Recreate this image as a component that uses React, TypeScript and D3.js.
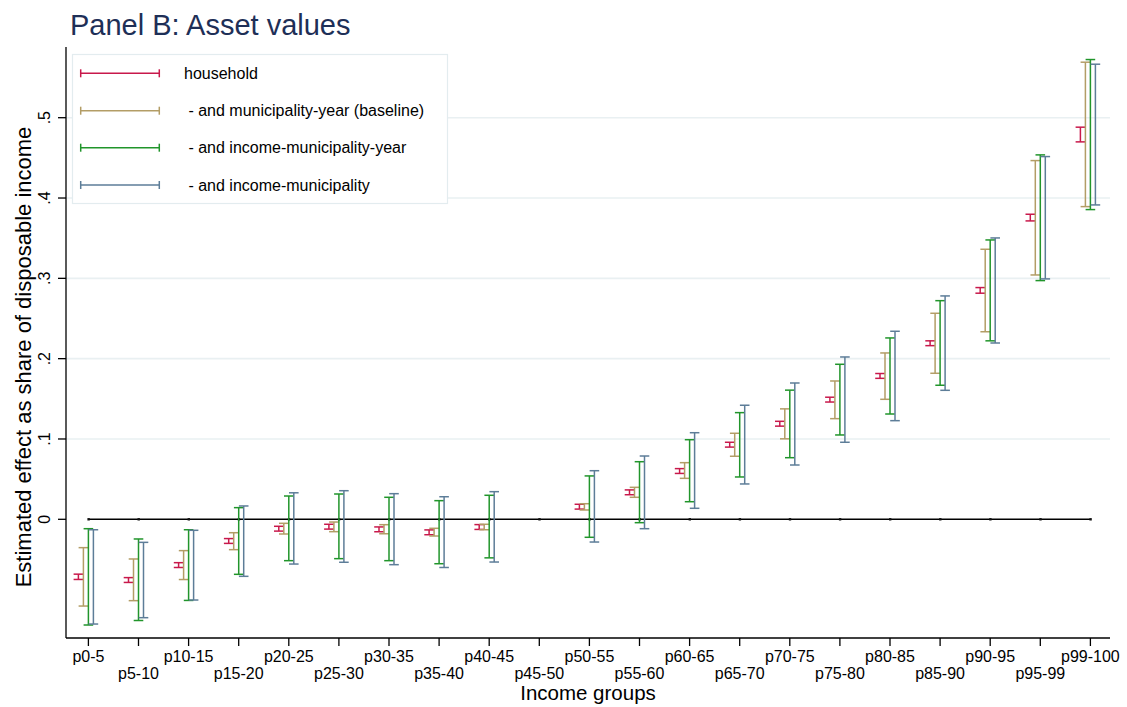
import React from "react";
import * as d3 from "d3";

const categories = ["p0-5","p5-10","p10-15","p15-20","p20-25","p25-30","p30-35","p35-40","p40-45","p45-50","p50-55","p55-60","p60-65","p65-70","p70-75","p75-80","p80-85","p85-90","p90-95","p95-99","p99-100"];

// household (lo, hi)
const householdLo = [-0.0749,-0.0786,-0.060,-0.030,-0.0147,-0.0122,-0.0155,-0.0192,-0.0126,null,0.0127,0.0306,0.0571,0.0899,0.116,0.146,0.1755,0.2162,0.2815,0.3715,0.4699];
const householdHi = [-0.0683,-0.0726,-0.054,-0.024,-0.0087,-0.0062,-0.0095,-0.0132,-0.0066,null,0.0187,0.0366,0.0631,0.0959,0.122,0.152,0.1815,0.2222,0.2885,0.3798,0.4882];
// municipality-year (baseline)
const baselineLo = [-0.108,-0.1013,-0.075,-0.0378,-0.0183,-0.0154,-0.018,-0.0208,-0.013,null,0.0116,0.0274,0.051,0.0785,0.1002,0.1253,0.1494,0.1818,0.2335,0.3042,0.3893];
const baselineHi = [-0.0353,-0.0494,-0.039,-0.0167,-0.005,-0.0034,-0.0067,-0.0112,-0.0062,null,0.0194,0.0398,0.0705,0.1071,0.1375,0.1722,0.2071,0.2565,0.3362,0.4466,0.5691];
// income-municipality-year
const incMunYearLo = [-0.1316,-0.126,-0.101,-0.0685,-0.0515,-0.049,-0.0515,-0.0553,-0.048,null,-0.0224,-0.0042,0.0219,0.0527,0.0767,0.105,0.1311,0.1669,0.2222,0.2972,0.3856];
const incMunYearHi = [-0.0117,-0.0245,-0.013,0.0145,0.029,0.0315,0.0274,0.0232,0.0299,null,0.054,0.0717,0.0991,0.1328,0.1608,0.193,0.2258,0.2722,0.3478,0.4537,0.5724];
// income-municipality
const incMunLo = [-0.1304,-0.1225,-0.1005,-0.071,-0.0557,-0.0535,-0.0565,-0.060,-0.0532,null,-0.0283,-0.0117,0.0137,0.044,0.0676,0.0959,0.1228,0.1606,0.2195,0.2993,0.3914];
const incMunHi = [-0.013,-0.0287,-0.0137,0.0166,0.033,0.0356,0.0319,0.0281,0.0344,null,0.0605,0.0788,0.1078,0.142,0.1697,0.2021,0.2341,0.2781,0.3503,0.4516,0.5666];

const yTicks = [0, 0.1, 0.2, 0.3, 0.4, 0.5];
const yTickLabels = ["0", ".1", ".2", ".3", ".4", ".5"];

const seriesNames = ["household", " - and municipality-year (baseline)", " - and income-municipality-year", " - and income-municipality"];
const seriesColors = ["#c8194b", "#b39d66", "#21952b", "#5d7d98"];
const seriesOffsets = [-10, -5, 0, 5];

const FONT = "Arial, 'Liberation Sans', Helvetica, sans-serif";

export default function App() {
  const W = 1127, H = 707;
  const axisLeft = 66, axisBottom = 638, axisTop = 47, axisRight = 1110;
  const x = d3.scalePoint<string>().domain(categories).range([88.4, 1090.4]);
  const y = d3.scaleLinear().domain([0, 0.5]).range([519.3, 117.7]);

  const series = [
    { lo: householdLo, hi: householdHi },
    { lo: baselineLo, hi: baselineHi },
    { lo: incMunYearLo, hi: incMunYearHi },
    { lo: incMunLo, hi: incMunHi },
  ];
  const cap = 4.8;
  const legendY = [73.3, 110.7, 147.7, 185];

  return (
    <div style={{ position: "absolute", left: 0, top: 0 }}>
      <svg width={W} height={H} style={{ display: "block", background: "#fff" }} fontFamily={FONT}>
        <rect x={0} y={0} width={W} height={H} fill="#ffffff" />
        <text x={70} y={34.5} fontSize={29} fill="#1e2f57">Panel B: Asset values</text>

        {/* grid */}
        {yTicks.filter(t => t > 0).map(t => (
          <line key={"g" + t} x1={axisLeft} x2={axisRight} y1={y(t)} y2={y(t)} stroke="#e9f0f2" strokeWidth={1.6} />
        ))}

        {/* zero line */}
        <line x1={x(categories[0])} x2={x(categories[categories.length - 1])} y1={y(0)} y2={y(0)} stroke="#000" strokeWidth={1.5} />
        {categories.map(c => (
          <rect key={"zd" + c} x={(x(c) as number) - 1} y={y(0) - 1.2} width={2.4} height={2.4} fill="#111" />
        ))}

        {/* bars */}
        {series.map((s, si) => (
          <g key={"s" + si} stroke={seriesColors[si]} strokeWidth={1.5} fill="none">
            {categories.map((c, i) => {
              const lo = s.lo[i], hi = s.hi[i];
              if (lo === null || hi === null) return null;
              const cx = (x(c) as number) + seriesOffsets[si];
              const y1 = y(lo), y2 = y(hi);
              return (
                <g key={c}>
                  <line x1={cx} x2={cx} y1={y1} y2={y2} />
                  <line x1={cx - cap} x2={cx + cap} y1={y1} y2={y1} />
                  <line x1={cx - cap} x2={cx + cap} y1={y2} y2={y2} />
                </g>
              );
            })}
          </g>
        ))}

        {/* axes */}
        <line x1={axisLeft} x2={axisLeft} y1={axisTop} y2={axisBottom} stroke="#000" strokeWidth={1.3} />
        <line x1={axisLeft} x2={axisRight} y1={axisBottom} y2={axisBottom} stroke="#000" strokeWidth={1.3} />
        {yTicks.map((t, i) => (
          <g key={"yt" + t}>
            <line x1={58} x2={axisLeft} y1={y(t)} y2={y(t)} stroke="#000" strokeWidth={1.3} />
            <text transform={`translate(50,${y(t)}) rotate(-90)`} textAnchor="middle" fontSize={16} fill="#000">{yTickLabels[i]}</text>
          </g>
        ))}
        {categories.map((c, i) => (
          <g key={"xt" + c}>
            <line x1={x(c)} x2={x(c)} y1={axisBottom} y2={axisBottom + 8} stroke="#000" strokeWidth={1.3} />
            <text x={x(c)} y={i % 2 === 0 ? 662 : 679} textAnchor="middle" fontSize={16} fill="#000">{c}</text>
          </g>
        ))}
        <text x={588} y={700} textAnchor="middle" fontSize={20.5} fill="#000">Income groups</text>
        <text transform={`translate(31,357) rotate(-90)`} textAnchor="middle" fontSize={22} fill="#000">Estimated effect as share of disposable income</text>

        {/* legend */}
        <rect x={72.5} y={54.5} width={375} height={149} fill="#fff" stroke="#e3ecef" strokeWidth={1.2} />
        {seriesNames.map((n, i) => (
          <g key={"l" + i}>
            <g stroke={seriesColors[i]} strokeWidth={1.5}>
              <line x1={80.7} x2={159.3} y1={legendY[i]} y2={legendY[i]} />
              <line x1={80.7} x2={80.7} y1={legendY[i] - 4} y2={legendY[i] + 4} />
              <line x1={159.3} x2={159.3} y1={legendY[i] - 4} y2={legendY[i] + 4} />
            </g>
            <text x={184} y={legendY[i] + 5.5} fontSize={16} fill="#000" style={{ whiteSpace: "pre" }}>{n}</text>
          </g>
        ))}
      </svg>
    </div>
  );
}
